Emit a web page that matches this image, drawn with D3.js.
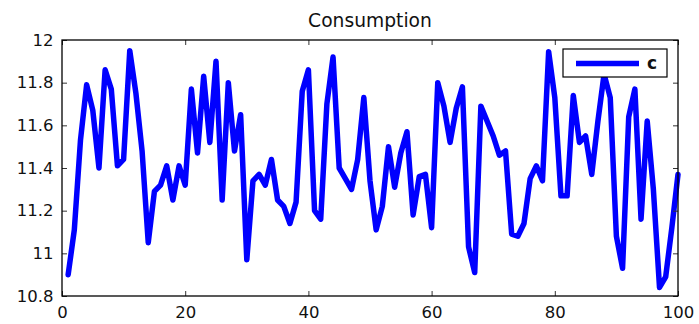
<!DOCTYPE html>
<html lang="en">
<head>
<meta charset="UTF-8">
<title>Consumption</title>
<script src="https://d3js.org/d3.v7.min.js"></script>
<style>
  body { margin: 0; background: #fff; font-family: "DejaVu Sans", sans-serif; }
</style>
</head>
<body>
<div id="chart"></div>
<script>
// consumption series, periods 1..100
const periods = d3.range(1, 101);
const consumption = [
  10.90, 11.11, 11.53, 11.79, 11.67, 11.40, 11.86, 11.77, 11.41, 11.44,
  11.95, 11.75, 11.48, 11.05, 11.29, 11.32, 11.41, 11.25, 11.41, 11.32,
  11.77, 11.47, 11.83, 11.52, 11.90, 11.25, 11.80, 11.48, 11.65, 10.97,
  11.34, 11.37, 11.32, 11.44, 11.25, 11.22, 11.14, 11.24, 11.76, 11.86,
  11.20, 11.16, 11.70, 11.92, 11.40, 11.35, 11.30, 11.44, 11.73, 11.34,
  11.11, 11.22, 11.50, 11.31, 11.47, 11.57, 11.18, 11.36, 11.37, 11.12,
  11.80, 11.69, 11.52, 11.68, 11.78, 11.03, 10.91, 11.69, 11.62, 11.55,
  11.46, 11.48, 11.09, 11.08, 11.14, 11.35, 11.41, 11.34, 11.945, 11.73,
  11.27, 11.27, 11.74, 11.52, 11.55, 11.37, 11.62, 11.84, 11.73, 11.08,
  10.93, 11.64, 11.77, 11.16, 11.62, 11.30, 10.84, 10.89, 11.12, 11.37
];
const xTicks = [0, 20, 40, 60, 80, 100];
const yTicks = [10.8, 11, 11.2, 11.4, 11.6, 11.8, 12];
const seriesName = "c";
const title = "Consumption";

const width = 699, height = 324;
const margin = {top: 40, right: 21, bottom: 28, left: 62};

const x = d3.scaleLinear().domain([0, 100]).range([margin.left, width - margin.right]);
const y = d3.scaleLinear().domain([10.8, 12]).range([height - margin.bottom, margin.top]);

const svg = d3.select("#chart").append("svg")
  .attr("width", width)
  .attr("height", height)
  .style("font-family", "DejaVu Sans, sans-serif");

// line
const line = d3.line()
  .x((d, i) => x(periods[i]))
  .y(d => y(d));

svg.append("path")
  .datum(consumption)
  .attr("fill", "none")
  .attr("stroke", "#0000ff")
  .attr("stroke-width", 5.5)
  .attr("stroke-linejoin", "round")
  .attr("stroke-linecap", "round")
  .attr("d", line);

// axes (ticks pointing inward, box around plot)
const tickLen = 5;
const fmt = d => String(+d.toFixed(1));

svg.append("g")
  .attr("transform", `translate(0,${y(10.8)})`)
  .call(d3.axisBottom(x).tickValues(xTicks).tickSize(-tickLen).tickPadding(10).tickFormat(d3.format("d")))
  .call(g => g.select(".domain").remove());

svg.append("g")
  .attr("transform", `translate(0,${y(12)})`)
  .call(d3.axisTop(x).tickValues(xTicks).tickSize(-tickLen).tickFormat(""))
  .call(g => g.select(".domain").remove());

svg.append("g")
  .attr("transform", `translate(${x(0)},0)`)
  .call(d3.axisLeft(y).tickValues(yTicks).tickSize(-tickLen).tickPadding(8.5).tickFormat(fmt))
  .call(g => g.select(".domain").remove());

svg.append("g")
  .attr("transform", `translate(${x(100)},0)`)
  .call(d3.axisRight(y).tickValues(yTicks).tickSize(-tickLen).tickFormat(""))
  .call(g => g.select(".domain").remove());

svg.selectAll(".tick line").attr("stroke", "#333");
svg.selectAll(".tick text")
  .attr("font-family", "DejaVu Sans, sans-serif")
  .attr("font-size", 16.5)
  .attr("fill", "#111");

svg.append("rect")
  .attr("x", x(0)).attr("y", y(12))
  .attr("width", x(100) - x(0)).attr("height", y(10.8) - y(12))
  .attr("fill", "none")
  .attr("stroke", "#000")
  .attr("stroke-width", 1.3);

// title
svg.append("text")
  .attr("x", (x(0) + x(100)) / 2)
  .attr("y", 26.5)
  .attr("text-anchor", "middle")
  .attr("font-size", 18.7)
  .attr("fill", "#111")
  .text(title);

// legend
const lg = svg.append("g").attr("transform", `translate(${x(100) - 115},49)`);
lg.append("rect")
  .attr("width", 104).attr("height", 28)
  .attr("fill", "#fff").attr("stroke", "#000").attr("stroke-width", 1.2);
lg.append("line")
  .attr("x1", 13).attr("x2", 76).attr("y1", 14.5).attr("y2", 14.5)
  .attr("stroke", "#0000ff").attr("stroke-width", 5.5);
lg.append("text")
  .attr("x", 84).attr("y", 20)
  .attr("font-size", 17)
  .attr("font-weight", "bold")
  .attr("fill", "#111")
  .text(seriesName);
</script>
</body>
</html>
